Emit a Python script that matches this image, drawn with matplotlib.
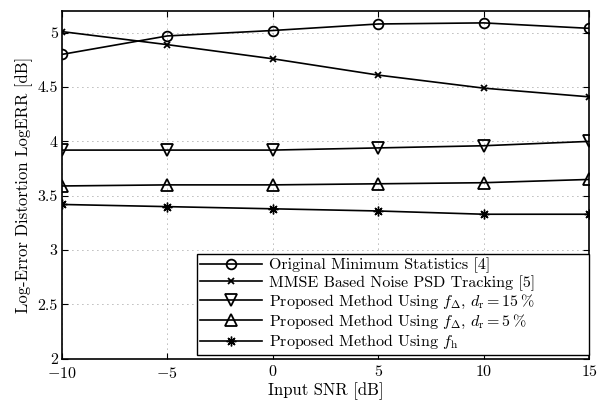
import matplotlib
matplotlib.use("Agg")
import matplotlib.pyplot as plt

snr = [-10, -5, 0, 5, 10, 15]
orig_ms = [4.80, 4.97, 5.02, 5.08, 5.09, 5.04]
mmse = [5.01, 4.89, 4.76, 4.61, 4.49, 4.41]
prop_15 = [3.92, 3.92, 3.92, 3.94, 3.96, 4.00]
prop_5 = [3.59, 3.60, 3.60, 3.61, 3.62, 3.65]
prop_h = [3.42, 3.40, 3.38, 3.36, 3.33, 3.33]

labels = [
    "Original Minimum Statistics [4]",
    "MMSE Based Noise PSD Tracking [5]",
    r"Proposed Method Using $f_\Delta$, $d_\mathrm{r} = 15\,\%$",
    r"Proposed Method Using $f_\Delta$, $d_\mathrm{r} = 5\,\%$",
    r"Proposed Method Using $f_\mathrm{h}$",
]
xticks = [-10, -5, 0, 5, 10, 15]
xticklabels = [r'$-10$', r'$-5$', '0', '5', '10', '15']
yticks = [2, 2.5, 3, 3.5, 4, 4.5, 5]
yticklabels = ['2', '2.5', '3', '3.5', '4', '4.5', '5']

plt.rcParams['font.family'] = ['cmr10', 'DejaVu Serif']
plt.rcParams['mathtext.fontset'] = 'cm'
plt.rcParams['axes.unicode_minus'] = False
plt.rcParams['font.size'] = 10.5

fig = plt.figure(figsize=(6.06, 4.05), dpi=100)
ax = fig.add_axes([0.102, 0.114, 0.870, 0.859])

series = [orig_ms, mmse, prop_15, prop_5, prop_h]
markers = ['o', 'x', 'v', '^', (8, 2, 0)]
sizes = [7, 5, 8, 8, 7]
mews = [1.3, 1.3, 1.3, 1.3, 1.0]
for ys, m, s, mw, lab in zip(series, markers, sizes, mews, labels):
    ax.plot(snr, ys, color='black', lw=1.2, marker=m, markersize=s,
            markerfacecolor='none', markeredgecolor='black',
            markeredgewidth=mw, label=lab)

ax.set_xlim(-10, 15)
ax.set_ylim(2, 5.2)
ax.set_xticks(xticks)
ax.set_xticklabels(xticklabels)
ax.set_yticks(yticks)
ax.set_yticklabels(yticklabels)
ax.grid(True, color='black', linestyle=(0, (1, 5)), linewidth=0.6, alpha=0.55)
ax.tick_params(direction='in', top=True, right=True, length=4, width=0.8,
               labelsize=11.5, pad=3)
ax.tick_params(axis='x', pad=5)
for sp in ax.spines.values():
    sp.set_linewidth(1.2)
ax.set_xlabel('Input SNR [dB]', fontsize=12, labelpad=1)
ax.set_ylabel('Log-Error Distortion LogERR [dB]', fontsize=12, labelpad=3)

leg = ax.legend(loc='lower left', bbox_to_anchor=(0.256, 0.012, 0.744, 0.295),
                mode='expand', fancybox=False, framealpha=1, edgecolor='black',
                borderaxespad=0.0, handlelength=3.9, handletextpad=0.45,
                labelspacing=0.12, borderpad=0.2, fontsize=11.5)
leg.get_frame().set_linewidth(1.0)

fig.savefig('out.png', dpi=100)
